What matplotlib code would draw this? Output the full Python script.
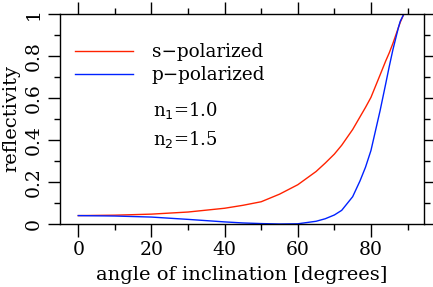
import matplotlib
matplotlib.use('Agg')
import matplotlib.pyplot as plt
from matplotlib.ticker import MultipleLocator

# reflectivity (n1=1.0, n2=1.5)
angles = [0, 10, 20, 30, 40, 45, 50, 55, 60, 65, 67.5, 70, 72, 75, 77,
          78.5, 80, 82.5, 84, 85, 86, 87.5, 88, 89]
refl_s = [0.040, 0.042, 0.047, 0.057, 0.075, 0.089, 0.106, 0.142, 0.187,
          0.250, 0.290, 0.333, 0.375, 0.450, 0.510, 0.555, 0.603, 0.710,
          0.775, 0.815, 0.860, 0.935, 0.960, 1.0]
refl_p = [0.040, 0.038, 0.033, 0.022, 0.010, 0.005, 0.002, 0.0, 0.001,
          0.013, 0.025, 0.043, 0.065, 0.130, 0.205, 0.270, 0.350, 0.540,
          0.665, 0.750, 0.830, 0.935, 0.965, 1.0]

plt.rcParams['font.family'] = ['DejaVu Serif']
fig = plt.figure(figsize=(4.33, 2.87), dpi=100)
ax = fig.add_axes([60/433, 1 - 224/287, 364/433, 210/287])

ax.plot(angles, refl_s, color='#ff2200', lw=1.0, label='s\u2212polarized')
ax.plot(angles, refl_p, color='#0022ff', lw=1.0, label='p\u2212polarized')

ax.set_xlim(-5, 94.5)
ax.set_ylim(0, 1)
ax.xaxis.set_major_locator(MultipleLocator(20))
ax.xaxis.set_minor_locator(MultipleLocator(10))
ax.yaxis.set_minor_locator(MultipleLocator(0.1))
ax.tick_params(which='both', direction='out', top=True, right=True,
               labeltop=False, labelright=False, labelsize=13.5, width=1)
ax.tick_params(which='major', length=9)
ax.tick_params(which='minor', length=4)
ax.set_yticks([0, 0.2, 0.4, 0.6, 0.8, 1.0])
ax.set_yticklabels(['0', '0.2', '0.4', '0.6', '0.8', '1'], rotation=90, va='center')
for s in ax.spines.values():
    s.set_linewidth(1)

ax.set_xlabel('angle of inclination [degrees]', fontsize=14, labelpad=5)
ax.set_ylabel('reflectivity', fontsize=14, labelpad=3)

ax.legend(loc='upper left', bbox_to_anchor=(0.0, 0.93), frameon=False,
          fontsize=13.2, handlelength=3.2, handletextpad=1.0, labelspacing=0.25,
          borderaxespad=0.4)
ax.text(0.255, 0.515, 'n$_1$=1.0', transform=ax.transAxes, fontsize=13)
ax.text(0.255, 0.375, 'n$_2$=1.5', transform=ax.transAxes, fontsize=13)

fig.savefig('out.png', dpi=100)
